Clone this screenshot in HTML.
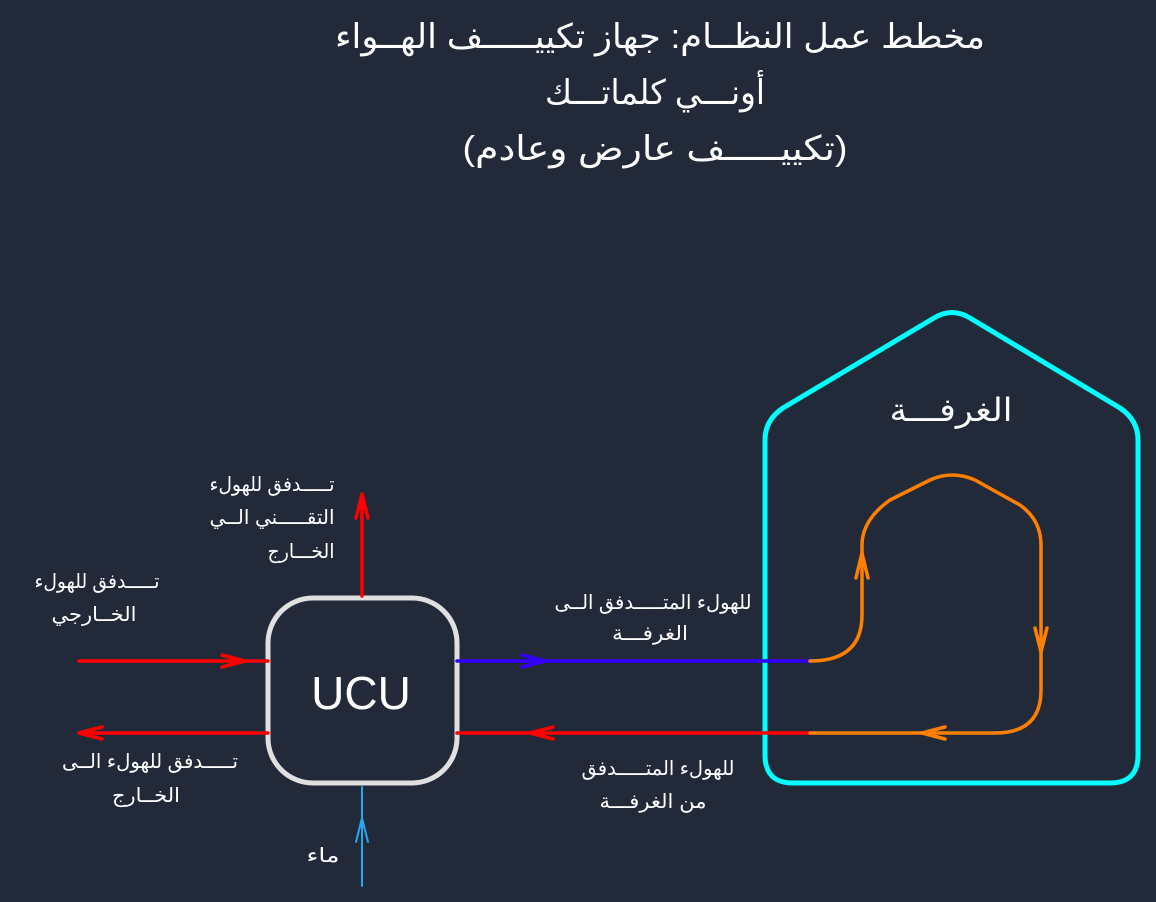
<!DOCTYPE html>
<html><head><meta charset="utf-8"><style>
html,body{margin:0;padding:0;background:#222938;}
svg{display:block}
text{font-family:"Liberation Sans","DejaVu Sans","Noto Sans CJK SC",sans-serif;fill:#fff}
</style></head><body>
<svg width="1156" height="902" viewBox="0 0 1156 902" xmlns="http://www.w3.org/2000/svg">
<rect width="1156" height="902" fill="#222938"/>
<g font-size="34" text-anchor="middle" direction="rtl" lengthAdjust="spacingAndGlyphs">
<text x="660" y="48" textLength="650" lengthAdjust="spacingAndGlyphs">مخطط عمل النظــام: جهاز تكييـــــف الهــواء</text>
<text x="655" y="104" textLength="220" lengthAdjust="spacingAndGlyphs">أونـــي كلماتـــك</text>
<text x="655" y="160" textLength="385" lengthAdjust="spacingAndGlyphs">(تكييـــــف عارض وعادم)</text>
</g>
<!-- house -->
<path d="M765,440 L765,755 Q765,783 793,783 L1110,783 Q1138,783 1138,755 L1138,440 Q1138,420 1120,408 L970,318 Q952,307 934,318 L783,408 Q765,420 765,440 Z" fill="none" stroke="#00ffff" stroke-width="5"/>
<text x="951" y="421" font-size="32" text-anchor="middle" direction="rtl" textLength="123" lengthAdjust="spacingAndGlyphs">الغرفـــة</text>
<!-- UCU -->
<rect x="268" y="598" width="189" height="185" rx="45" fill="none" stroke="#e0e0e0" stroke-width="5"/>
<text x="361" y="709" font-size="46" text-anchor="middle">UCU</text>
<g fill="none" stroke-width="3.5" stroke-linecap="round" stroke-linejoin="round">
<path d="M362,596 L362,494 M356,518 L362,494 L368,518" stroke="#ff0000"/>
<path d="M79,661 L268,661 M222,655 L245,661 L222,667" stroke="#ff0000"/>
<path d="M268,733 L79,733 M102,727 L79,733 L102,739" stroke="#ff0000"/>
<path d="M457,661 L810,661 M522,655 L545,661 L522,667" stroke="#3300ff"/>
<path d="M810,733 L457,733 M553,727 L530,733 L553,739" stroke="#ff0000"/>
<path d="M810,661 Q862,661 862,615 L862,545 Q862,520 890,500 L930,480 Q952,470 975,480 L1020,505 Q1041,520 1041,545 L1041,690 Q1041,733 995,733 L810,733" stroke="#ff8000"/>
<path d="M856,578 L862,553 L868,578 M1035,628 L1041,652 L1047,628 M945,727 L922,733 L945,739" stroke="#ff8000"/>
<path d="M362,886 L362,787 M356,842 L362,818 L368,842" stroke="#29a8f0" stroke-width="2"/>
</g>
<g font-size="20" text-anchor="middle" direction="rtl">
<text x="272" y="491" textLength="125" lengthAdjust="spacingAndGlyphs">تـــــدفق للهولء</text>
<text x="272" y="524" textLength="125" lengthAdjust="spacingAndGlyphs">التقـــــني الــي</text>
<text x="301" y="558" textLength="67" lengthAdjust="spacingAndGlyphs">الخـــارج</text>
<text x="97" y="588" textLength="125" lengthAdjust="spacingAndGlyphs">تـــــدفق للهولء</text>
<text x="94" y="621" textLength="85" lengthAdjust="spacingAndGlyphs">الخــارجي</text>
<text x="150" y="768" textLength="176" lengthAdjust="spacingAndGlyphs">تـــــدفق للهولء  الــى</text>
<text x="146" y="802" textLength="68" lengthAdjust="spacingAndGlyphs">الخــارج</text>
<text x="653" y="609" textLength="197" lengthAdjust="spacingAndGlyphs">للهولء المتـــــدفق الــى</text>
<text x="650" y="640" textLength="76" lengthAdjust="spacingAndGlyphs">الغرفـــة</text>
<text x="658" y="775" textLength="153" lengthAdjust="spacingAndGlyphs">للهولء المتـــــدفق</text>
<text x="653" y="808" textLength="107" lengthAdjust="spacingAndGlyphs">من الغرفـــة</text>
<text x="323" y="862" textLength="33" lengthAdjust="spacingAndGlyphs">ماء</text>
</g>
</svg>
</body></html>
